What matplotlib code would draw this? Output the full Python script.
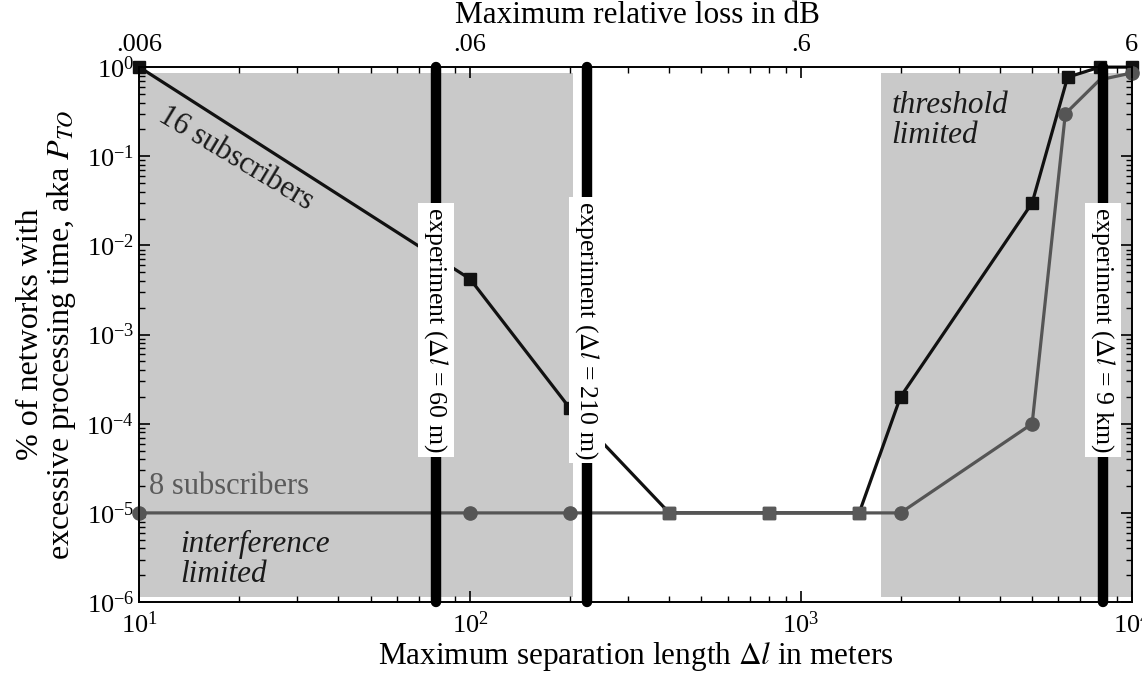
import numpy as np
import matplotlib
matplotlib.use("Agg")
import matplotlib.pyplot as plt
from matplotlib.ticker import LogLocator, NullFormatter, FixedLocator

plt.rcParams["font.family"] = ["Liberation Serif", "DejaVu Serif"]
plt.rcParams["mathtext.fontset"] = "stix"

# --- data -------------------------------------------------------------
# 16 subscribers (squares)
sep16 = [10, 100, 200, 400, 800, 1500, 2000, 5000, 6400, 8000, 10000]
pto16 = [1.0, 4.2e-3, 1.5e-4, 1e-5, 1e-5, 1e-5, 2e-4, 3e-2, 0.77, 1.0, 1.0]

# 8 subscribers (circles)
sep8 = [10, 100, 200, 400, 800, 1500, 2000, 5000, 6300, 8000, 10000]
pto8 = [1e-5, 1e-5, 1e-5, 1e-5, 1e-5, 1e-5, 1e-5, 1e-4, 0.3, 0.72, 0.86]
marker8 = [True, True, True, False, False, False, True, True, True, False, True]

floor_value = 1e-5

# experiment separations (drawn position, label)
exp_sep = [79, 226, 8200]
exp_labels = ["experiment ($\\Delta\\mathit{l}$ = 60 m)",
              "experiment ($\\Delta\\mathit{l}$ = 210 m)",
              "experiment ($\\Delta\\mathit{l}$ = 9 km)"]

# shaded regimes
interference_span = (10, 205)
threshold_span = (1750, 10000)

# top axis: relative loss in dB per meter of separation
db_per_meter = 6e-4
db_ticks = [0.006, 0.06, 0.6, 6]
db_labels = [".006", ".06", ".6", "6"]

# --- figure -----------------------------------------------------------
fig = plt.figure(figsize=(11.42, 6.78), dpi=100)
ax = fig.add_axes([0.122, 0.112, 0.869, 0.789])
ax.set_xscale("log")
ax.set_yscale("log")
ax.set_xlim(10, 10000)
ax.set_ylim(1e-6, 1.0)

shade = "#c9c9c9"
for lo, hi in (interference_span, threshold_span):
    ax.fill_between([lo, hi], 1.15e-6, 0.87, color=shade, lw=0, zorder=0)

ax.plot(sep16, pto16, color="#111111", lw=2.3, marker="s", ms=8.5,
        mfc="#111111", mec="#111111", zorder=3, clip_on=False)

s8 = np.array(sep8)
p8 = np.array(pto8)
m8 = np.array(marker8)
ax.plot(s8, p8, color="#555555", lw=2.3, zorder=4, clip_on=False)
ax.plot(s8[m8], p8[m8], ls="none", marker="o", ms=9.5, mfc="#555555",
        mec="#555555", zorder=5, clip_on=False)

# squares sitting on the floor line get the grey tone
s16 = np.array(sep16)
p16 = np.array(pto16)
on_floor = (p16 == floor_value)
ax.plot(s16[on_floor], p16[on_floor], ls="none", marker="s", ms=9,
        mfc="#5a5a5a", mec="#5a5a5a", zorder=6)

# thick experiment markers with labels
for xv, lab in zip(exp_sep, exp_labels):
    ax.plot([xv, xv], [1e-6, 1.0], color="black", lw=7.5,
            solid_capstyle="round", zorder=7, clip_on=False)
    ax.text(xv, 10 ** -2.95, lab, rotation=-90, ha="center", va="center",
            fontsize=18.5, zorder=8,
            bbox=dict(boxstyle="square,pad=0.15", fc="white", ec="none"))

# annotations
ax.text(12.2, 0.42, "16 subscribers", rotation=-31, fontsize=22,
        color="#1a1a1a", ha="left", va="top", rotation_mode="anchor",
        zorder=4)
ax.text(10.7, 1.35e-5, "8 subscribers", fontsize=22, color="#5a5a5a",
        ha="left", va="bottom")
ax.text(13.3, 3.0e-6, "interference\nlimited", fontsize=22.5, style="italic",
        color="#1a1a1a", ha="left", va="center", linespacing=1.05)
ax.text(1880, 0.25, "threshold\nlimited", fontsize=22.5, style="italic",
        color="#1a1a1a", ha="left", va="center", linespacing=1.05)

# ticks
ax.tick_params(which="both", direction="in", top=False, right=True,
               labelsize=19)
ax.tick_params(which="major", length=8, width=1.2)
ax.tick_params(which="minor", length=4, width=1)
ax.xaxis.set_major_locator(LogLocator(base=10, numticks=10))
ax.xaxis.set_minor_locator(LogLocator(base=10, subs=np.arange(2, 10), numticks=10))
ax.xaxis.set_minor_formatter(NullFormatter())
ax.yaxis.set_major_locator(LogLocator(base=10, numticks=10))
ax.yaxis.set_minor_locator(LogLocator(base=10, subs=np.arange(2, 10), numticks=10))
ax.yaxis.set_minor_formatter(NullFormatter())
ax.tick_params(axis="x", pad=7)

ax.set_xlabel("Maximum separation length $\\Delta\\mathit{l}$ in meters",
              fontsize=22.5, labelpad=1)
ax.set_ylabel("% of networks with\nexcessive processing time, aka $P_{TO}$",
              fontsize=23, labelpad=6, linespacing=1.0)

ax2 = ax.twiny()
ax2.set_xscale("log")
ax2.set_xlim(ax.get_xlim())
ax2.xaxis.set_major_locator(FixedLocator(np.array(db_ticks) / db_per_meter))
ax2.set_xticklabels(db_labels)
ax2.xaxis.set_minor_locator(LogLocator(base=10, subs=np.arange(2, 10), numticks=10))
ax2.xaxis.set_minor_formatter(NullFormatter())
ax2.tick_params(which="both", direction="in", labelsize=19, pad=8)
ax2.tick_params(which="major", length=8, width=1.2)
ax2.tick_params(which="minor", length=4, width=1)

# top axis title sits flush with the figure's upper edge
fig.text(0.558, 0.999, "Maximum relative loss in dB", fontsize=22.5,
         ha="center", va="top")

for a in (ax, ax2):
    for sp in a.spines.values():
        sp.set_linewidth(1.2)

fig.savefig("out.png", dpi=100)
